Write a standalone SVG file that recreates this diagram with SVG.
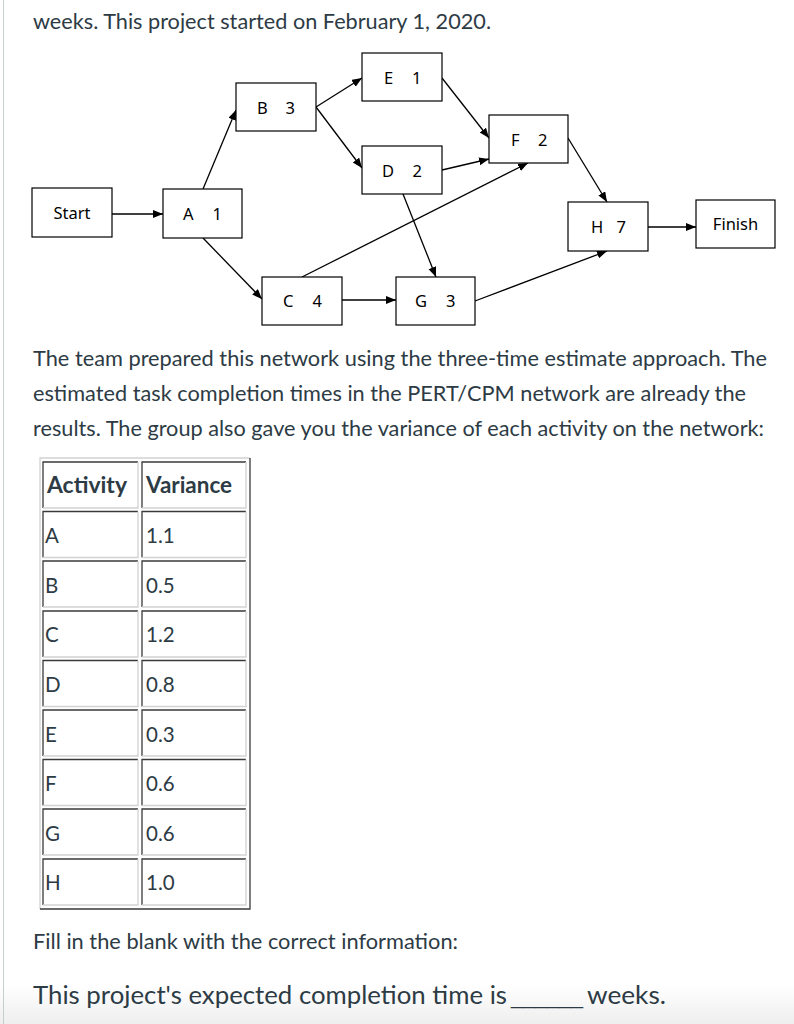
<svg xmlns="http://www.w3.org/2000/svg" width="794" height="1024" viewBox="0 0 794 1024">
<style>
.t{font-family:Lato,"Noto Sans",sans-serif;fill:#2d3b45}
.p{font-size:21.6px}
.box{fill:#fff;stroke:#000;stroke-width:1.2}
.lbl{font-family:"Noto Sans","Open Sans",sans-serif;font-size:16.5px;fill:#000}
.c{stroke:#000;stroke-width:1.3;fill:none;marker-end:url(#ah)}
.dk{stroke:#3a3a3a;stroke-width:1.3;fill:none}
.lt{stroke:#d2d2d2;stroke-width:1.3;fill:none}
.cell{font-family:Lato,"Noto Sans",sans-serif;font-size:20.5px;fill:#2d3b45}
.hd{font-family:Lato,"Noto Sans",sans-serif;font-size:23px;font-weight:bold;fill:#2d3b45}
</style>
<defs>
<marker id="ah" markerUnits="userSpaceOnUse" markerWidth="11" markerHeight="9" refX="10" refY="4" orient="auto">
<path d="M0,0 L10,4 L0,8 z" fill="#000"/>
</marker>
<linearGradient id="bg" x1="0" y1="0" x2="0" y2="1">
<stop offset="0" stop-color="#ffffff"/>
<stop offset="1" stop-color="#eeeeee"/>
</linearGradient>
</defs>
<rect width="794" height="1024" fill="#fff"/>
<rect x="0" y="985" width="794" height="39" fill="url(#bg)"/>
<line x1="3.5" y1="0" x2="3.5" y2="1024" stroke="#c8cdd0" stroke-width="1"/>

<text class="t p" x="33" y="29" textLength="458" lengthAdjust="spacingAndGlyphs">weeks. This project started on February 1, 2020.</text>

<g id="connectors">
<line class="c" x1="112" y1="214" x2="163" y2="214"/>
<line class="c" x1="203" y1="189" x2="236" y2="110"/>
<line class="c" x1="203" y1="238" x2="262" y2="299"/>
<line class="c" x1="316" y1="107" x2="362" y2="78"/>
<line class="c" x1="316" y1="107" x2="362" y2="168"/>
<line class="c" x1="442" y1="78" x2="489" y2="138"/>
<line class="c" x1="442" y1="170" x2="489" y2="159"/>
<line class="c" x1="302" y1="277" x2="528" y2="163"/>
<line class="c" x1="403" y1="194" x2="436" y2="277"/>
<line class="c" x1="342" y1="300" x2="396" y2="300"/>
<line class="c" x1="568" y1="138" x2="607" y2="202"/>
<line class="c" x1="475" y1="301" x2="607" y2="251"/>
<line class="c" x1="648" y1="227" x2="696" y2="227"/>
</g>

<g id="start"><rect class="box" x="32" y="188" width="80" height="49"/><text class="lbl" x="72" y="219" text-anchor="middle">Start</text></g>
<g id="a"><rect class="box" x="163" y="189" width="79" height="49"/><text class="lbl" x="183" y="220">A <tspan x="212.5">1</tspan></text></g>
<g id="b"><rect class="box" x="236" y="83" width="80" height="48"/><text class="lbl" x="257" y="114">B <tspan x="285.5">3</tspan></text></g>
<g id="c"><rect class="box" x="262" y="277" width="80" height="48"/><text class="lbl" x="283" y="307">C <tspan x="312.5">4</tspan></text></g>
<g id="e"><rect class="box" x="362" y="53" width="80" height="48"/><text class="lbl" x="384" y="84">E <tspan x="412">1</tspan></text></g>
<g id="d"><rect class="box" x="362" y="146" width="80" height="48"/><text class="lbl" x="382" y="177">D <tspan x="412.5">2</tspan></text></g>
<g id="f"><rect class="box" x="489" y="115" width="79" height="48"/><text class="lbl" x="511" y="146">F <tspan x="538">2</tspan></text></g>
<g id="g"><rect class="box" x="396" y="277" width="79" height="48"/><text class="lbl" x="415" y="307">G <tspan x="446">3</tspan></text></g>
<g id="h"><rect class="box" x="568" y="202" width="80" height="49"/><text class="lbl" x="591" y="233">H <tspan x="616.5">7</tspan></text></g>
<g id="finish"><rect class="box" x="696" y="200" width="79" height="48"/><text class="lbl" x="735.5" y="230" text-anchor="middle">Finish</text></g>

<text class="t p" x="33" y="366" textLength="734" lengthAdjust="spacingAndGlyphs">The team prepared this network using the three-time estimate approach. The</text>
<text class="t p" x="33" y="401" textLength="713" lengthAdjust="spacingAndGlyphs">estimated task completion times in the PERT/CPM network are already the</text>
<text class="t p" x="33" y="436" textLength="731" lengthAdjust="spacingAndGlyphs">results. The group also gave you the variance of each activity on the network:</text>

<g id="table">
<path class="lt" d="M40,909 V458 H250"/>
<path class="dk" d="M40,909 H250 V458"/>
<g id="cells">
<path class="dk" d="M43,508 V462 H138 M142,508 V462 H246"/><path class="lt" d="M43,508 H138 V462 M142,508 H246 V462"/>
<path class="dk" d="M43,557.5 V511.5 H138 M142,557.5 V511.5 H246"/><path class="lt" d="M43,557.5 H138 V511.5 M142,557.5 H246 V511.5"/>
<path class="dk" d="M43,607 V561 H138 M142,607 V561 H246"/><path class="lt" d="M43,607 H138 V561 M142,607 H246 V561"/>
<path class="dk" d="M43,657 V611 H138 M142,657 V611 H246"/><path class="lt" d="M43,657 H138 V611 M142,657 H246 V611"/>
<path class="dk" d="M43,706.5 V660.5 H138 M142,706.5 V660.5 H246"/><path class="lt" d="M43,706.5 H138 V660.5 M142,706.5 H246 V660.5"/>
<path class="dk" d="M43,756 V710 H138 M142,756 V710 H246"/><path class="lt" d="M43,756 H138 V710 M142,756 H246 V710"/>
<path class="dk" d="M43,805.5 V759.5 H138 M142,805.5 V759.5 H246"/><path class="lt" d="M43,805.5 H138 V759.5 M142,805.5 H246 V759.5"/>
<path class="dk" d="M43,855 V809 H138 M142,855 V809 H246"/><path class="lt" d="M43,855 H138 V809 M142,855 H246 V809"/>
<path class="dk" d="M43,905 V859 H138 M142,905 V859 H246"/><path class="lt" d="M43,905 H138 V859 M142,905 H246 V859"/>
</g>
<text class="hd" x="47" y="493" textLength="80" lengthAdjust="spacingAndGlyphs">Activity</text><text class="hd" x="146" y="493" textLength="86" lengthAdjust="spacingAndGlyphs">Variance</text>
<text class="cell" x="45" y="543">A</text><text class="cell" x="146" y="543">1.1</text>
<text class="cell" x="45" y="593">B</text><text class="cell" x="146" y="593">0.5</text>
<text class="cell" x="45" y="642">C</text><text class="cell" x="146" y="642">1.2</text>
<text class="cell" x="45" y="692">D</text><text class="cell" x="146" y="692">0.8</text>
<text class="cell" x="45" y="742">E</text><text class="cell" x="146" y="742">0.3</text>
<text class="cell" x="45" y="791">F</text><text class="cell" x="146" y="791">0.6</text>
<text class="cell" x="45" y="841">G</text><text class="cell" x="146" y="841">0.6</text>
<text class="cell" x="45" y="890">H</text><text class="cell" x="146" y="890">1.0</text>
</g>

<text class="t p" x="33" y="949" textLength="425" lengthAdjust="spacingAndGlyphs">Fill in the blank with the correct information:</text>
<text class="t" x="33" y="1004" font-size="25.5"><tspan textLength="474" lengthAdjust="spacingAndGlyphs">This project's expected completion time is</tspan> <tspan x="511" font-family="Liberation Sans" font-size="21.5" textLength="72" lengthAdjust="spacingAndGlyphs">______</tspan> <tspan x="587" textLength="79" lengthAdjust="spacingAndGlyphs">weeks.</tspan></text>
</svg>
